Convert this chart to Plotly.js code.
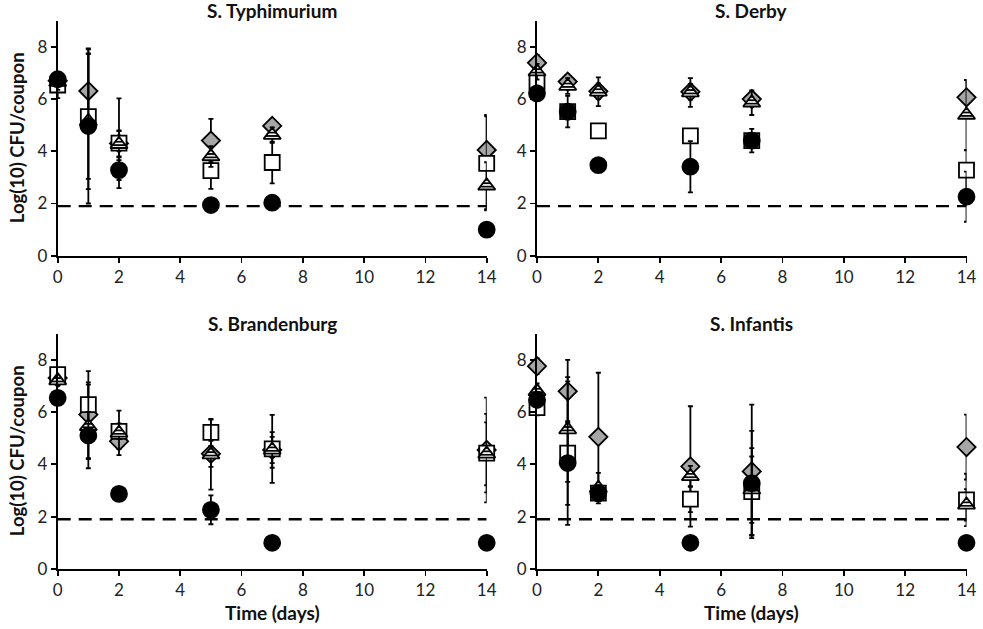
<!DOCTYPE html>
<html>
<head>
<meta charset="utf-8">
<script src="https://cdn.plot.ly/plotly-3.0.1.min.js"></script>
<style>
  html, body { margin: 0; padding: 0; background: #fff; }
  #chart { width: 983px; height: 629px; }
</style>
</head>
<body>
<div id="chart"></div>
<script>
// Sampling days
const days = [0, 1, 2, 5, 7, 14];
const panelTitles = ['S. Typhimurium', 'S. Derby', 'S. Brandenburg', 'S. Infantis'];
const detectionLimit = 1.9;
const xTicks = [0, 2, 4, 6, 8, 10, 12, 14];
const yTicks = [0, 2, 4, 6, 8];

// Log(10) CFU/coupon means and SD per serovar and treatment
const typhimuriumDiamond = [6.70, 6.31, 4.30, 4.41, 4.97, 4.05];
const typhimuriumSquare  = [6.54, 5.33, 4.31, 3.26, 3.57, 3.54];
const typhimuriumTriangle= [6.65, 5.15, 4.27, 3.80, 4.62, 2.68];
const typhimuriumCircle  = [6.76, 4.97, 3.28, 1.94, 2.03, 1.00];
const typhimuriumDiamondSd = [0.30, 1.60, 0.50, 0.83, 0.20, 1.34];
const typhimuriumSquareSd  = [0.50, 2.39, 1.72, 0.70, 0.80, 1.80];
const typhimuriumTriangleSd= [0.30, 2.60, 0.50, 0.40, 0.30, 0.90];
const typhimuriumCircleSd  = [0.20, 2.97, 0.38, 0.00, 0.00, 0.00];

const derbyDiamond = [7.39, 6.67, 6.30, 6.28, 6.00, 6.07];
const derbySquare  = [6.67, 5.52, 4.78, 4.59, 4.41, 3.28];
const derbyTriangle= [7.05, 6.50, 6.28, 6.25, 5.86, 5.39];
const derbyCircle  = [6.22, 5.52, 3.47, 3.41, 4.41, 2.26];
const derbyDiamondSd = [0.30, 0.20, 0.30, 0.30, 0.20, 0.66];
const derbySquareSd  = [0.30, 0.30, 0.00, 0.00, 0.20, 0.77];
const derbyTriangleSd= [0.30, 0.30, 0.55, 0.55, 0.47, 1.35];
const derbyCircleSd  = [0.30, 0.60, 0.00, 0.98, 0.45, 0.96];

const brandenburgDiamond = [7.30, 5.90, 4.88, 4.40, 4.55, 4.55];
const brandenburgSquare  = [7.43, 6.28, 5.26, 5.22, 4.59, 4.43];
const brandenburgTriangle= [7.20, 5.45, 5.20, 4.37, 4.55, 4.40];
const brandenburgCircle  = [6.54, 5.10, 2.87, 2.26, 1.00, 1.00];
const brandenburgDiamondSd = [0.20, 1.66, 0.30, 0.50, 0.50, 2.00];
const brandenburgSquareSd  = [0.20, 0.85, 0.30, 0.52, 1.30, 1.50];
const brandenburgTriangleSd= [0.20, 1.60, 0.85, 1.34, 0.68, 1.20];
const brandenburgCircleSd  = [0.20, 0.90, 0.00, 0.55, 0.00, 0.00];

const infantisDiamond = [7.75, 6.79, 5.05, 3.92, 3.73, 4.66];
const infantisSquare  = [6.17, 4.43, 2.90, 2.67, 2.96, 2.64];
const infantisTriangle= [6.79, 5.33, 3.09, 3.54, 3.03, 2.45];
const infantisCircle  = [6.47, 4.05, 2.90, 1.00, 3.28, 1.00];
const infantisDiamondSd = [0.30, 1.20, 2.45, 2.30, 2.55, 1.24];
const infantisSquareSd  = [0.30, 2.74, 0.30, 0.50, 1.66, 1.00];
const infantisTriangleSd= [0.30, 2.00, 0.58, 0.40, 1.27, 0.60];
const infantisCircleSd  = [0.30, 1.60, 0.30, 0.00, 2.00, 0.00];

const panels = [
  { diamond: [typhimuriumDiamond, typhimuriumDiamondSd], square: [typhimuriumSquare, typhimuriumSquareSd],
    triangle: [typhimuriumTriangle, typhimuriumTriangleSd], circle: [typhimuriumCircle, typhimuriumCircleSd] },
  { diamond: [derbyDiamond, derbyDiamondSd], square: [derbySquare, derbySquareSd],
    triangle: [derbyTriangle, derbyTriangleSd], circle: [derbyCircle, derbyCircleSd] },
  { diamond: [brandenburgDiamond, brandenburgDiamondSd], square: [brandenburgSquare, brandenburgSquareSd],
    triangle: [brandenburgTriangle, brandenburgTriangleSd], circle: [brandenburgCircle, brandenburgCircleSd] },
  { diamond: [infantisDiamond, infantisDiamondSd], square: [infantisSquare, infantisSquareSd],
    triangle: [infantisTriangle, infantisTriangleSd], circle: [infantisCircle, infantisCircleSd] }
];

// Marker styles, drawn back to front
const markerStyles = [
  { key: 'diamond',  symbol: 'diamond',     size: 14, color: '#a6a6a6', striped: false },
  { key: 'square',   symbol: 'square',      size: 15, color: '#ffffff', striped: false },
  { key: 'triangle', symbol: 'triangle-up', size: 15, color: '#ffffff', striped: true },
  { key: 'circle',   symbol: 'circle',      size: 16, color: '#000000', striped: false }
];

const FONT = 'Lato, "Open Sans", Arial, sans-serif';
const traces = [];
panels.forEach((panel, i) => {
  const xa = i === 0 ? 'x' : 'x' + (i + 1);
  const ya = i === 0 ? 'y' : 'y' + (i + 1);
  // detection limit
  traces.push({
    x: [xTicks[0], xTicks[xTicks.length - 1]], y: [detectionLimit, detectionLimit],
    xaxis: xa, yaxis: ya, mode: 'lines', hoverinfo: 'skip',
    line: { color: '#000', width: 2.4, dash: '13px,8px' }, showlegend: false
  });
  markerStyles.forEach(ms => {
    const [vals, sd] = panel[ms.key];
    traces.push({
      x: days, y: vals, xaxis: xa, yaxis: ya, mode: 'markers', showlegend: false,
      cliponaxis: false, meta: ms.striped ? 'striped' : 'plain',
      error_y: { type: 'data', array: sd, visible: true, color: '#000', thickness: 1.8, width: 2.5 },
      marker: { symbol: ms.symbol, size: ms.size, color: ms.color, line: { color: '#000', width: 1.8 } }
    });
  });
});

const xDomL = [57.7 / 983, 486.7 / 983];
const xDomR = [537 / 983, 966.5 / 983];
const yDomT = [1 - 255.7 / 629, 1 - 20.8 / 629];
const yDomB = [1 - 569 / 629, 1 - 333.5 / 629];

function xAxis(domain, anchor) {
  return {
    domain, anchor, range: [0, 14], tickvals: xTicks, ticktext: xTicks.map(String),
    showgrid: false, zeroline: false, showline: true, linecolor: '#000', linewidth: 2,
    ticks: 'outside', ticklen: 5, tickwidth: 1.8, tickcolor: '#000',
    tickfont: { family: FONT, size: 17, color: '#222' }, fixedrange: true
  };
}
function yAxis(domain, anchor) {
  return {
    domain, anchor, range: [0, 9], tickvals: yTicks, ticktext: yTicks.map(String),
    showgrid: false, zeroline: false, showline: true, linecolor: '#000', linewidth: 2,
    ticks: 'outside', ticklen: 5, tickwidth: 1.8, tickcolor: '#000',
    tickfont: { family: FONT, size: 17, color: '#222' }, fixedrange: true
  };
}

const titleFont = { family: FONT, size: 19, color: '#111', weight: 'bold' };
const yTitleFont = { family: FONT, size: 18.5, color: '#111', weight: 'bold' };
const annotations = [];
const centers = [
  [(xDomL[0] + xDomL[1]) / 2, yDomT[1]], [(xDomR[0] + xDomR[1]) / 2, yDomT[1]],
  [(xDomL[0] + xDomL[1]) / 2, yDomB[1]], [(xDomR[0] + xDomR[1]) / 2, yDomB[1]]
];
panelTitles.forEach((t, i) => {
  annotations.push({
    text: '<b>' + t + '</b>', xref: 'paper', yref: 'paper', x: centers[i][0], y: centers[i][1],
    xanchor: 'center', yanchor: 'middle', yshift: 10, showarrow: false, font: titleFont
  });
});
[yDomT, yDomB].forEach(d => {
  annotations.push({
    text: '<b>Log(10) CFU/coupon</b>', xref: 'paper', yref: 'paper', x: 17 / 983, y: (d[0] + d[1]) / 2,
    xanchor: 'center', yanchor: 'middle', textangle: -90, showarrow: false, font: yTitleFont
  });
});
[xDomL, xDomR].forEach(d => {
  annotations.push({
    text: '<b>Time (days)</b>', xref: 'paper', yref: 'paper', x: (d[0] + d[1]) / 2, y: 1 - 612 / 629,
    xanchor: 'center', yanchor: 'middle', showarrow: false, font: titleFont
  });
});

const layout = {
  width: 983, height: 629, margin: { l: 0, r: 0, t: 0, b: 0 },
  paper_bgcolor: '#fff', plot_bgcolor: '#fff', showlegend: false,
  font: { family: FONT, color: '#222' },
  xaxis: xAxis(xDomL, 'y'), yaxis: yAxis(yDomT, 'x'),
  xaxis2: xAxis(xDomR, 'y2'), yaxis2: yAxis(yDomT, 'x2'),
  xaxis3: xAxis(xDomL, 'y3'), yaxis3: yAxis(yDomB, 'x3'),
  xaxis4: xAxis(xDomR, 'y4'), yaxis4: yAxis(yDomB, 'x4'),
  annotations
};

const gd = document.getElementById('chart');
Plotly.newPlot(gd, traces, layout, { displayModeBar: false, staticPlot: true }).then(() => {
  // horizontal-stripe fill for the triangle markers
  const svg = gd.querySelector('svg.main-svg');
  const NS = 'http://www.w3.org/2000/svg';
  let defs = svg.querySelector('defs');
  if (!defs) { defs = document.createElementNS(NS, 'defs'); svg.insertBefore(defs, svg.firstChild); }
  const pat = document.createElementNS(NS, 'pattern');
  pat.setAttribute('id', 'hstripes');
  pat.setAttribute('patternUnits', 'userSpaceOnUse');
  pat.setAttribute('width', '6');
  pat.setAttribute('height', '3.4');
  const bg = document.createElementNS(NS, 'rect');
  bg.setAttribute('width', '6'); bg.setAttribute('height', '3.4'); bg.setAttribute('fill', '#fff');
  const st = document.createElementNS(NS, 'rect');
  st.setAttribute('width', '6'); st.setAttribute('height', '1.8'); st.setAttribute('fill', '#000');
  pat.appendChild(bg); pat.appendChild(st);
  defs.appendChild(pat);
  gd.querySelectorAll('g.trace.scatter').forEach(g => {
    const cd = g.__data__;
    const tr = cd && cd[0] && cd[0].trace;
    if (tr && tr.meta === 'striped') {
      g.querySelectorAll('path.point').forEach(p => { p.style.fill = 'url(#hstripes)'; });
    }
  });
});
</script>
</body>
</html>
